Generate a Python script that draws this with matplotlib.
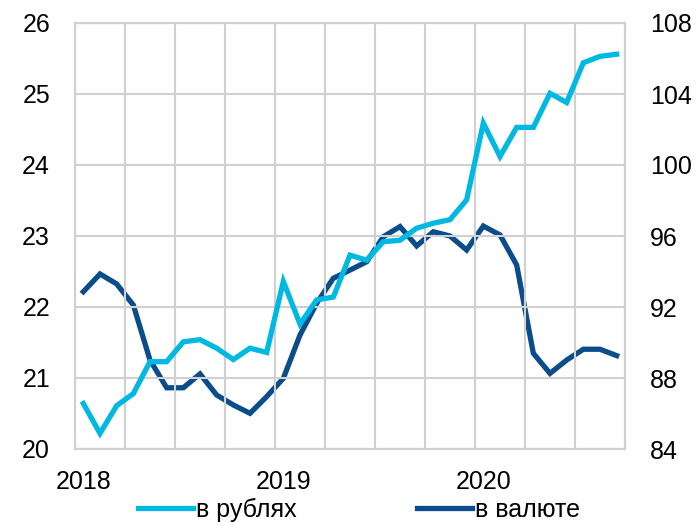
import matplotlib.pyplot as plt
import numpy as np

plt.rcParams['font.family'] = ['Liberation Sans', 'DejaVu Sans']

# monthly data, Jan 2018 - Sep 2020
rub = [20.64, 20.22, 20.61, 20.78, 21.23, 21.23, 21.51, 21.54, 21.42, 21.26,
       21.42, 21.36, 22.36, 21.76, 22.10, 22.14, 22.73, 22.66, 22.92, 22.94,
       23.11, 23.18, 23.23, 23.51, 24.59, 24.12, 24.53, 24.53, 25.01, 24.88,
       25.44, 25.53, 25.56]
fx = [92.86, 93.86, 93.30, 92.11, 89.01, 87.45, 87.45, 88.23, 87.04, 86.48,
      86.01, 86.95, 87.98, 90.42, 92.21, 93.62, 94.08, 94.55, 95.96, 96.53,
      95.44, 96.24, 96.00, 95.21, 96.56, 96.06, 94.37, 89.39, 88.26, 89.01,
      89.62, 89.62, 89.26]
year_labels = ['2018', '2019', '2020']
left_ticks = [20, 21, 22, 23, 24, 25, 26]
right_ticks = [84, 88, 92, 96, 100, 104, 108]

c_rub = '#00B9E3'
c_fx = '#0B4C8A'
grid_c = '#D0D0D0'
fs = 18

x = np.arange(len(rub))

fig = plt.figure(figsize=(6.96, 5.22), dpi=100)
ax = fig.add_axes([75 / 696, 1 - 449 / 522, 550 / 696, 426 / 522])
ax2 = ax.twinx()

l1, = ax.plot(x, rub, color=c_rub, lw=3.8, solid_joinstyle='miter', zorder=3)
l2, = ax2.plot(x, fx, color=c_fx, lw=3.8, solid_joinstyle='miter', zorder=3)

ax.set_xlim(-0.5, len(rub) - 0.5)
ax.set_ylim(20, 26)
ax2.set_ylim(84, 108)
ax.set_yticks(left_ticks)
ax2.set_yticks(right_ticks)
ax.set_xticks([0, 12, 24])
ax.set_xticklabels(year_labels)

# grid
for v in left_ticks:
    ax.axhline(v, color=grid_c, lw=1.5, zorder=1)
for v in np.arange(-0.5, len(rub), 3):
    ax.axvline(v, color=grid_c, lw=1.5, zorder=1)

for a in (ax, ax2):
    for s in a.spines.values():
        s.set_color(grid_c)
        s.set_linewidth(1.5)
    a.tick_params(length=0, labelsize=fs, colors='black')
ax.tick_params(axis='y', pad=18)
ax2.tick_params(axis='y', pad=18)
ax.tick_params(axis='x', pad=15)

ax.set_zorder(ax2.get_zorder() + 1)
ax.patch.set_visible(False)

fig.legend([l1, l2], ['в рублях', 'в валюте'], loc='center',
           bbox_to_anchor=(0.516, 12.5 / 522), ncol=2, frameon=False,
           fontsize=fs, handlelength=2.2, handletextpad=0.12,
           columnspacing=4.8, borderpad=0, borderaxespad=0)

fig.savefig('out.png', dpi=100)
